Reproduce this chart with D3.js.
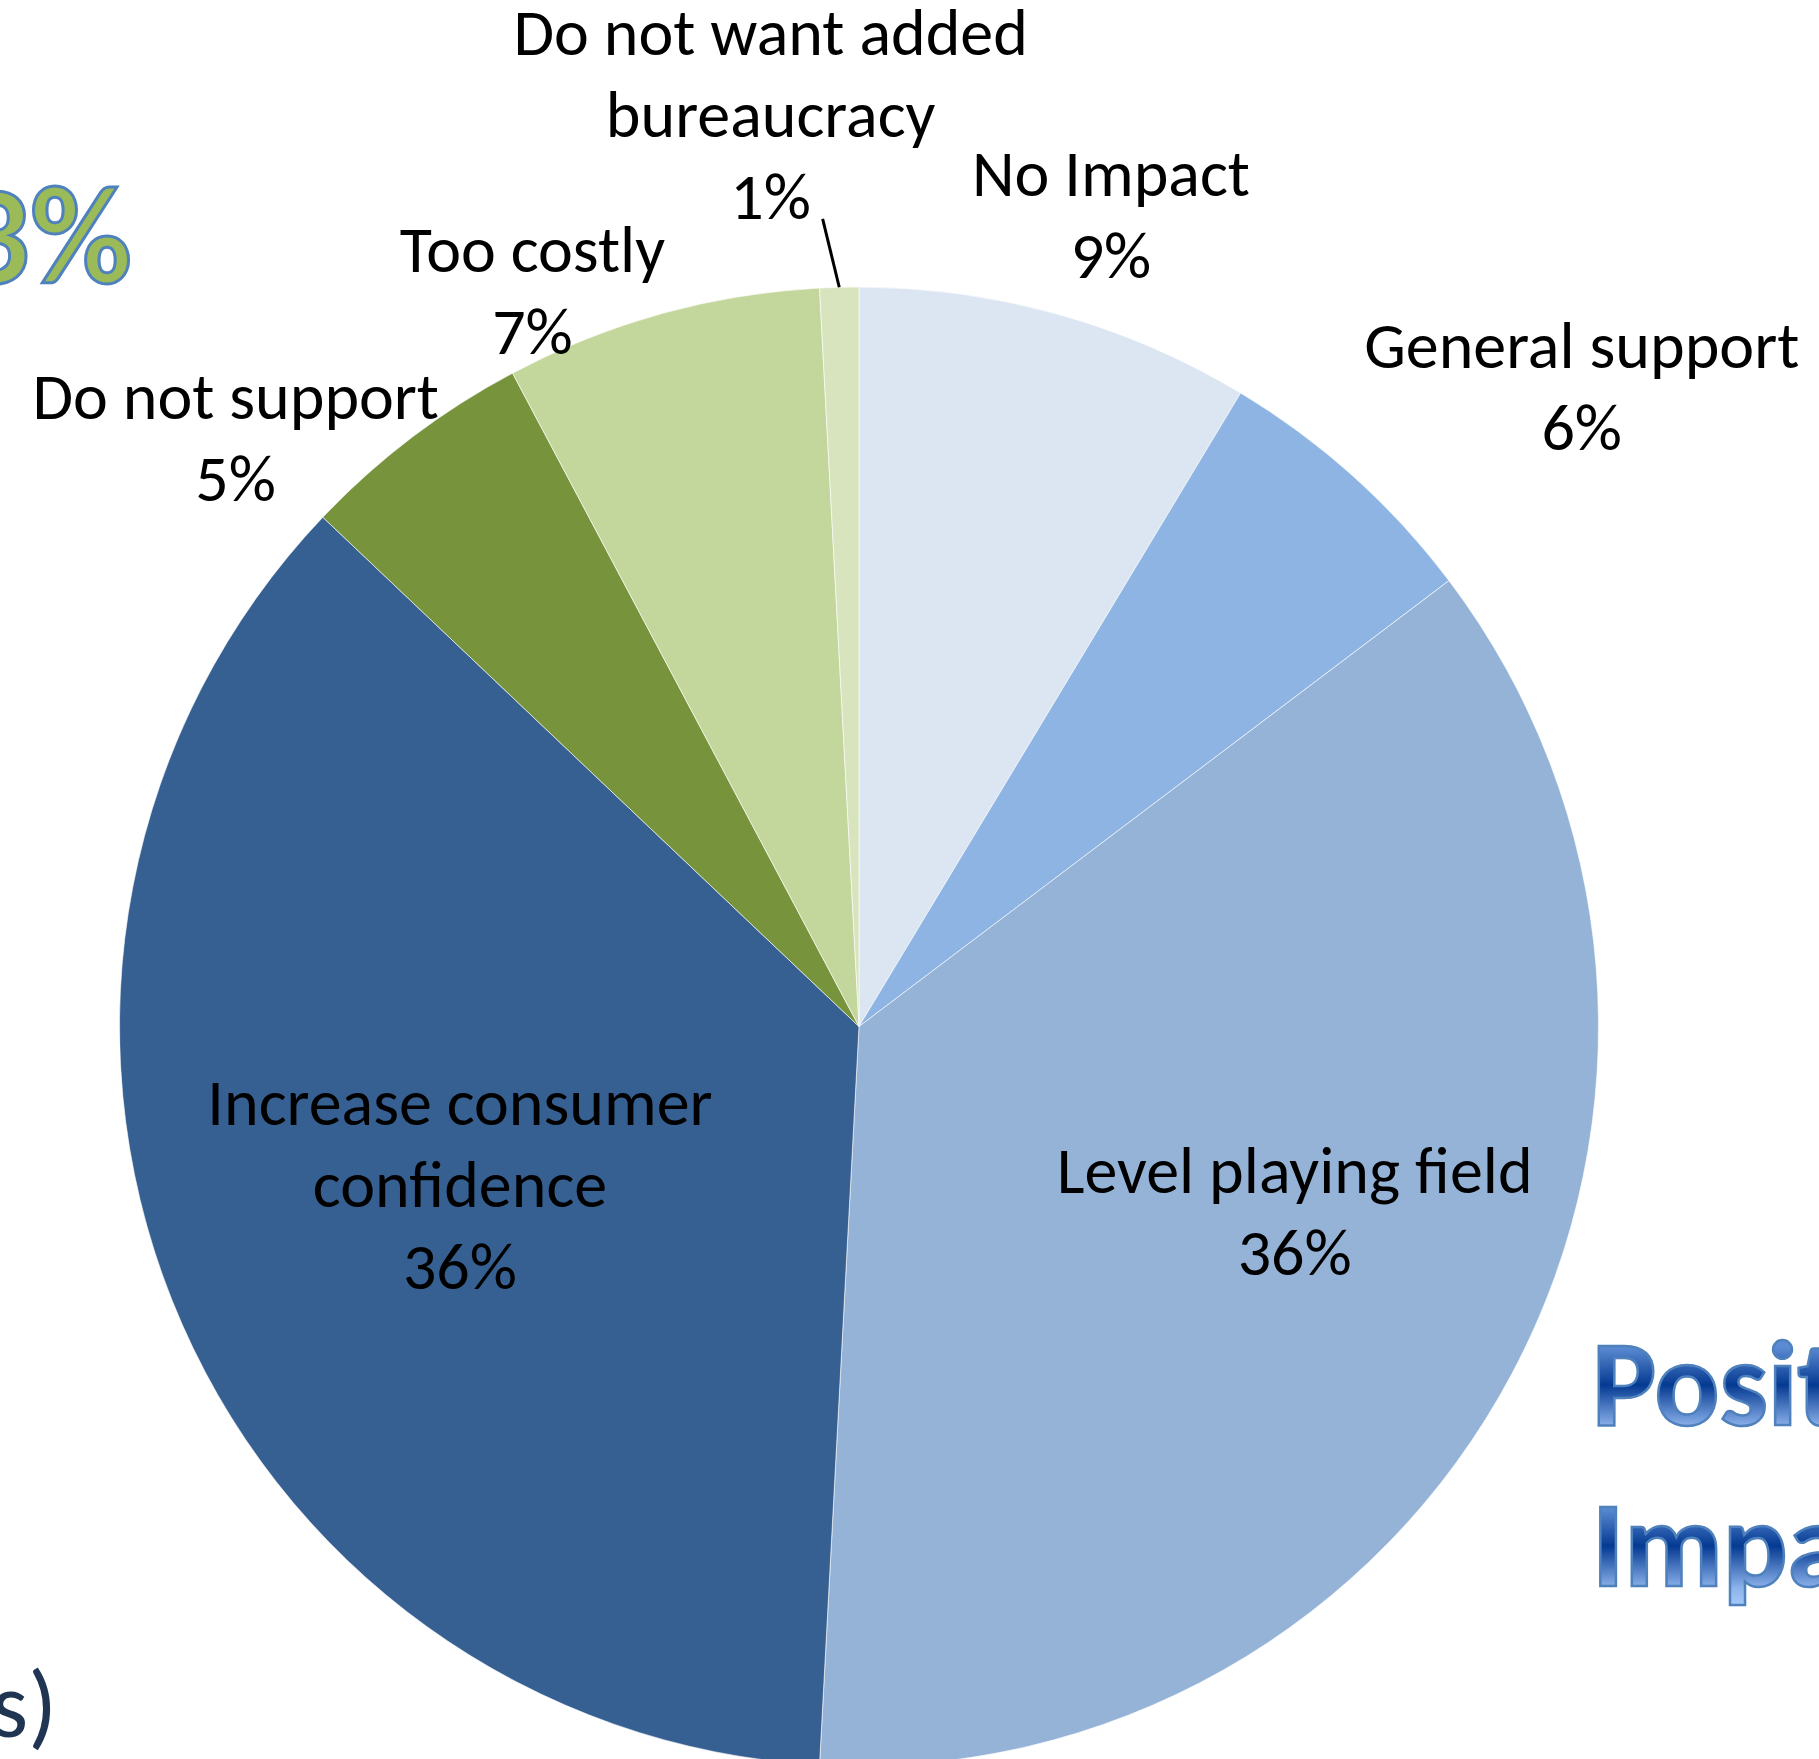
<!DOCTYPE html>
<html>
<head>
<meta charset="utf-8">
<script src="https://cdn.jsdelivr.net/npm/d3@7"></script>
<style>
  body { margin: 0; background: #fff; overflow: hidden; }
  svg { display: block; }
  .lbl { font-family: Carlito, Calibri, Lato, sans-serif; font-size: 66px; fill: #000; }
  .big { font-family: Carlito, Calibri, Lato, sans-serif; font-weight: 700; }
</style>
</head>
<body>
<div id="chart"></div>
<script>
// slice data, clockwise from 12 o'clock
const categories = ['No Impact', 'General support', 'Level playing field',
  'Increase consumer confidence', 'Do not support', 'Too costly',
  'Do not want added bureaucracy'];
const shares = [8.63, 6.07, 36.15, 36.24, 5.15, 6.91, 0.85];
const pctLabels = ['9%', '6%', '36%', '36%', '5%', '7%', '1%'];
const labelLines = [['No Impact'], ['General support'], ['Level playing field'],
  ['Increase consumer', 'confidence'], ['Do not support'], ['Too costly'],
  ['Do not want added', 'bureaucracy']];
const colors = ['#DCE6F2', '#8EB4E3', '#95B3D7', '#376092', '#77933C', '#C3D69B', '#D7E4BD'];

// label placement: radius factor and angle nudge (deg) from the slice bisector
const labelLayout = [
  { rf: 1.15, da: 1.7 },
  { rf: 1.306, da: 6.45 },
  { rf: 0.64, da: -5 },
  { rf: 0.58, da: 0.2 },
  { rf: 1.16, da: -9.4 },
  { rf: 1.09, da: -8.4 },
  { rf: 1.24, da: -4.0 }
];

const width = 1819, height = 1759;
const cx = 859, cy = 1026.5, radius = 739.5;
const lineH = 82, capH = 46;

const svg = d3.select('#chart').append('svg')
    .attr('width', width)
    .attr('height', height);

const defs = svg.append('defs');

const data = categories.map((c, i) => ({ cat: c, value: shares[i], pct: pctLabels[i], lines: labelLines[i], color: colors[i], layout: labelLayout[i] }));

const pie = d3.pie().sort(null).value(d => d.value);
const arc = d3.arc().innerRadius(0).outerRadius(radius);

const g = svg.append('g')
    .attr('transform', `translate(${cx},${cy})`);

const arcs = pie(data);

g.selectAll('path.slice').data(arcs)
  .enter().append('path')
    .attr('class', 'slice')
    .attr('d', arc)
    .attr('fill', d => d.data.color)
    .attr('stroke', '#fff')
    .attr('stroke-width', 0.6);

// labels
arcs.forEach(d => {
  const mid = (d.startAngle + d.endAngle) / 2 + d.data.layout.da * Math.PI / 180;
  const r = radius * d.data.layout.rf;
  const x = Math.sin(mid) * r;
  const yc = -Math.cos(mid) * r;
  const lines = d.data.lines.concat([d.data.pct]);
  const y0 = yc - (lines.length - 1) * lineH / 2 + capH / 2;
  const t = g.append('text')
      .attr('class', 'lbl')
      .attr('text-anchor', 'middle');
  lines.forEach((ln, k) => {
    t.append('tspan').attr('x', x).attr('y', y0 + k * lineH).text(ln);
  });

  // leader line for the thin slice
  if (d.data.value < 2) {
    const bis = (d.startAngle + d.endAngle) / 2;
    g.append('line')
        .attr('x1', x + 52)
        .attr('y1', y0 + (lines.length - 1) * lineH)
        .attr('x2', Math.sin(bis) * radius)
        .attr('y2', -Math.cos(bis) * radius)
        .attr('stroke', '#000')
        .attr('stroke-width', 3);
  }
});

// slide fragments cut off at the edges
svg.append('text')
    .attr('class', 'big')
    .attr('x', 132)
    .attr('y', 283)
    .attr('text-anchor', 'end')
    .style('font-size', '140px')
    .attr('fill', '#9BBB59')
    .attr('stroke', '#4F81BD')
    .attr('stroke-width', 3)
    .text('3%');

const posLines = ['Posit', 'Impa'];
posLines.forEach((s, i) => {
  const base = 1425 + i * 161;
  const capTop = base - 78;
  const grad = defs.append('linearGradient')
      .attr('id', 'pg' + i)
      .attr('gradientUnits', 'userSpaceOnUse')
      .attr('x1', 0).attr('x2', 0)
      .attr('y1', capTop).attr('y2', base + 22);
  [[0, '#5B8BD2'], [0.38, '#053A92'], [0.8, '#8DB3EC'], [1, '#A8CCFA']].forEach(s2 => {
    grad.append('stop').attr('offset', s2[0]).attr('stop-color', s2[1]);
  });
  svg.append('text')
      .attr('class', 'big')
      .attr('x', 1592)
      .attr('y', base)
      .style('font-size', '121px')
      .attr('fill', `url(#pg${i})`)
      .attr('stroke', '#4F81BD')
      .attr('stroke-width', 2.5)
      .text(s);
});

svg.append('text')
    .attr('class', 'lbl')
    .attr('x', 57)
    .attr('y', 1737)
    .attr('text-anchor', 'end')
    .style('font-size', '95px')
    .style('fill', '#1F3552')
    .text('s)');
</script>
</body>
</html>
